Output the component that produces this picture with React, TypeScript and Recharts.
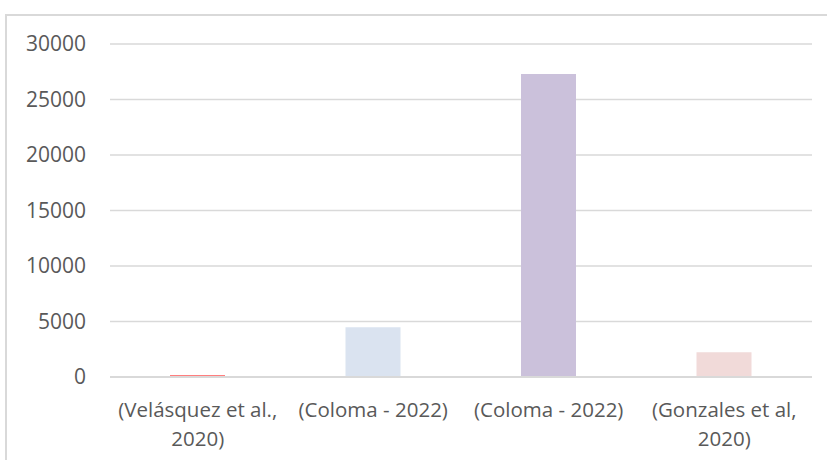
import React from "react";
import { BarChart, Bar, XAxis, YAxis, CartesianGrid, Cell } from "recharts";

const categories = [
  "(Velásquez et al., 2020)",
  "(Coloma - 2022)",
  "(Coloma - 2022) ",
  "(Gonzales et al, 2020)",
];
const labelLines = [
  ["(Velásquez et al.,", "2020)"],
  ["(Coloma - 2022)"],
  ["(Coloma - 2022)"],
  ["(Gonzales et al,", "2020)"],
];
const values = [140, 4480, 27300, 2230];
const colors = ["#FF0000", "#DAE3F0", "#CBC1DB", "#F1DAD9"];
const yTicks = [0, 5000, 10000, 15000, 20000, 25000, 30000];

const data = categories.map((c, i) => ({ name: c, value: values[i], idx: i }));

const TEXT = "#595959";
const GRID = "#D9D9D9";

const XTick = (props: any) => {
  const { x, y, index } = props;
  const lines = labelLines[index] || [];
  return (
    <g>
      {lines.map((l, k) => (
        <text
          key={k}
          x={x}
          y={y + 40 + k * 29}
          textAnchor="middle"
          fill={TEXT}
          fontSize={20.5}
          fontFamily="Open Sans"
        >
          {l}
        </text>
      ))}
    </g>
  );
};

export default function App() {
  return (
    <div style={{ position: "absolute", left: 0, top: 0, width: 827, height: 460, background: "#fff", overflow: "hidden" }}>
      <div
        style={{
          position: "absolute",
          left: 5,
          top: 14,
          width: 830,
          height: 460,
          borderTop: "2px solid " + GRID,
          borderLeft: "2px solid " + GRID,
        }}
      />
      <div style={{ position: "absolute", left: 0, top: 0 }}>
        <BarChart
          width={827}
          height={460}
          data={data}
          margin={{ top: 44, right: 15, bottom: 0, left: 0 }}
          style={{ fontFamily: "Open Sans" }}
        >
          <CartesianGrid vertical={false} stroke={GRID} strokeWidth={1.5} />
          <XAxis
            dataKey="name"
            height={83}
            tickLine={false}
            tickSize={0}
            tickMargin={0}
            axisLine={{ stroke: GRID, strokeWidth: 2 }}
            tick={<XTick />}
            interval={0}
          />
          <YAxis
            width={110}
            domain={[0, 30000]}
            ticks={yTicks}
            axisLine={false}
            tickLine={false}
            tickSize={0}
            tickMargin={24}
            tick={{ fill: TEXT, fontSize: 21, fontFamily: "Open Sans", textAnchor: "end" }}
            interval={0}
          />
          <Bar dataKey="value" barSize={55} isAnimationActive={false}>
            {data.map((d, i) => (
              <Cell key={i} fill={colors[i]} />
            ))}
          </Bar>
        </BarChart>
      </div>
    </div>
  );
}
